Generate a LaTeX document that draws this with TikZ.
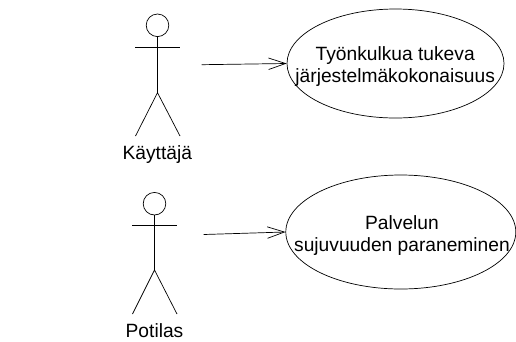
\documentclass[tikz,border=0pt]{standalone}
\usepackage{fontspec}
\setmainfont{Liberation Sans}
\usetikzlibrary{arrows.meta, shapes.geometric}

\begin{document}
\begin{tikzpicture}[x=1pt, y=-1pt, line width=0.7pt]
        % Setup the styles for the actors and the use cases
        \tikzset{actor head/.style={circle, draw, inner sep=0pt, minimum size=22.6pt},
                 actor label/.style={font=\fontsize{19.2}{22}\selectfont, inner sep=0pt},
                 use case/.style={ellipse, draw, inner sep=0pt},
                 use case text/.style={align=center, inner sep=0pt,
                                       font=\fontsize{19.2}{22}\selectfont},
                 flow/.style={-{Straight Barb[length=17pt, width=11.5pt, line width=0.7pt]}}}
        \useasboundingbox (0, 0) rectangle (516, 341);

        % Draw the use cases
        \node[use case, minimum width=217pt, minimum height=109pt] at (395.5, 63.5) (tukeva) {};
        \node[use case text] at (395.2, 66.5) (tukeva text) {Työnkulkua tukeva\\järjestelmäkokonaisuus};
        \node[use case, minimum width=230pt, minimum height=114pt] at (400.8, 232) (paraneminen) {};
        \node[use case text] at (402, 236) (paraneminen text) {Palvelun\\sujuvuuden paraneminen};

        % Draw the first actor
        \node[actor head] at (157.5, 25.3) (kayttaja head) {};
        \coordinate (kayttaja left arm) at (135, 47.7);
        \coordinate (kayttaja right arm) at (180, 47.7);
        \coordinate (kayttaja hip) at (157.5, 92.7);
        \coordinate (kayttaja left foot) at (135.5, 136);
        \coordinate (kayttaja right foot) at (180, 136);
        \node[actor label] at (157.3, 154.5) (kayttaja) {Käyttäjä};
        \draw (kayttaja head) -- (kayttaja hip);
        \draw (kayttaja left arm) -- (kayttaja right arm);
        \draw (kayttaja left foot) -- (kayttaja hip) -- (kayttaja right foot);

        % Draw the second actor
        \node[actor head] at (154.5, 203.7) (potilas head) {};
        \coordinate (potilas left arm) at (132, 225.3);
        \coordinate (potilas right arm) at (177, 225.3);
        \coordinate (potilas hip) at (154.5, 270);
        \coordinate (potilas left foot) at (132.5, 314);
        \coordinate (potilas right foot) at (177, 314);
        \node[actor label] at (154.5, 331) (potilas) {Potilas};
        \draw (potilas head) -- (potilas hip);
        \draw (potilas left arm) -- (potilas right arm);
        \draw (potilas left foot) -- (potilas hip) -- (potilas right foot);

        % Connect the actors with the use cases
        \coordinate (kayttaja start) at (201.7, 64.7);
        \coordinate (potilas start) at (203.7, 234.5);
        \draw[flow] (kayttaja start) -- (tukeva.west);
        \draw[flow] (potilas start) -- (paraneminen.west);
\end{tikzpicture}
\end{document}
